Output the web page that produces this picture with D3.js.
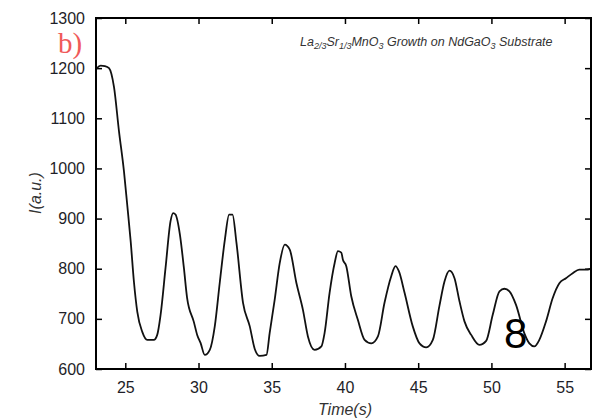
<!DOCTYPE html>
<meta charset="utf-8">
<style>
body { margin: 0; background: #fff; }
svg text { font-family: "Liberation Sans", Arial, sans-serif; }
.axis path { display: none; }
.axis line { stroke: #000; stroke-width: 1.5px; }
.axis text { fill: #1e1e28; font-size: 16px; }
.frame { fill: none; stroke: #000; stroke-width: 2px; }
.line { fill: none; stroke: #111; stroke-width: 1.8px; stroke-linejoin: round; }
</style>
<body>
<div id="chart"></div>
<script src="https://d3js.org/d3.v7.min.js"></script>
<script>

// RHEED intensity trace
var time = [23.0, 23.32, 23.61, 23.89, 24.23, 24.57, 24.91, 25.13, 25.37, 25.59, 25.82, 26.16, 26.5, 26.95,
  27.18, 27.41, 27.75, 28.09, 28.27, 28.43, 28.73, 29.0, 29.22, 29.68, 29.91, 30.14, 30.43, 30.77,
  31.11, 31.45, 31.8, 32.09, 32.32, 32.59, 33.04, 33.5, 33.84, 34.18, 34.64, 34.86, 35.2, 35.55, 35.89,
  36.23, 36.68, 37.13, 37.47, 37.93, 38.39, 38.61, 38.95, 39.3, 39.52, 39.75, 39.86, 40.09, 40.43, 40.88,
  41.34, 41.8, 42.25, 42.7, 43.16, 43.45, 43.68, 44.07, 44.63, 45.09, 45.55, 46.0, 46.45, 46.8, 47.14,
  47.48, 47.82, 48.16, 48.62, 49.18, 49.64, 50.09, 50.55, 50.89, 51.23, 51.68, 52.25, 52.59, 52.93, 53.27,
  53.73, 54.18, 54.64, 55.09, 55.55, 56.0, 56.45, 56.8];
var intensity = [1198, 1205, 1204, 1200, 1162, 1074, 994, 928, 854, 774, 714, 674, 658, 658,
  668, 708, 802, 895, 911, 908, 868, 802, 742, 694, 668, 652, 628, 638,
  685, 772, 858, 908, 908, 852, 732, 685, 640, 626, 628, 672, 738, 812, 848,
  838, 772, 718, 665, 638, 645, 672, 752, 812, 835, 832, 818, 805, 745, 698,
  658, 651, 665, 732, 785, 805, 795, 752, 685, 651, 643, 658, 726, 775, 796,
  781, 735, 695, 668, 648, 656, 708, 755, 760, 755, 728, 671, 651, 645, 658,
  695, 741, 771, 781, 791, 798, 798, 800];

var xTicks = [25, 30, 35, 40, 45, 50, 55];
var yTicks = [600, 700, 800, 900, 1000, 1100, 1200, 1300];

var data = time.map(function(t, i) { return {t: t, v: intensity[i]}; });

var margin = {top: 18, right: 2, bottom: 51, left: 96},
    width  = 593 - margin.left - margin.right,
    height = 420 - margin.top - margin.bottom;

var svgRoot = d3.select("#chart").append("svg")
    .attr("width", 593)
    .attr("height", 420);

var svg = svgRoot.append("g")
    .attr("transform", "translate(" + margin.left + "," + margin.top + ")");

var x = d3.scaleLinear().domain([23, 56.8]).range([0, width]);
var y = d3.scaleLinear().domain([600, 1300]).range([height, 0]);

svg.append("clipPath").attr("id", "clip")
  .append("rect").attr("width", width).attr("height", height);

// axes, ticks pointing inward
svg.append("g")
    .attr("class", "axis")
    .attr("transform", "translate(0," + height + ")")
    .call(d3.axisBottom(x).tickValues(xTicks).tickFormat(d3.format("d"))
        .tickSizeInner(-6).tickSizeOuter(0).tickPadding(13));

svg.append("g")
    .attr("class", "axis")
    .call(d3.axisTop(x).tickValues(xTicks).tickSizeInner(-6).tickSizeOuter(0).tickFormat(""));

svg.append("g")
    .attr("class", "axis")
    .call(d3.axisLeft(y).tickValues(yTicks).tickFormat(d3.format("d"))
        .tickSizeInner(-6).tickSizeOuter(0).tickPadding(11));

svg.append("g")
    .attr("class", "axis")
    .attr("transform", "translate(" + width + ",0)")
    .call(d3.axisRight(y).tickValues(yTicks).tickSizeInner(-6).tickSizeOuter(0).tickFormat(""));

svg.append("path")
    .datum(data)
    .attr("class", "line")
    .attr("clip-path", "url(#clip)")
    .attr("d", d3.line()
        .x(function(d) { return x(d.t); })
        .y(function(d) { return y(d.v); })
        .curve(d3.curveMonotoneX));

svg.append("rect")
    .attr("class", "frame")
    .attr("width", width)
    .attr("height", height);

// axis titles
svgRoot.append("text")
    .attr("x", 345).attr("y", 415)
    .attr("text-anchor", "middle")
    .style("font-style", "italic")
    .style("font-size", "16px")
    .style("fill", "#333")
    .text("Time(s)");

svgRoot.append("text")
    .attr("transform", "translate(41,193) rotate(-90)")
    .attr("text-anchor", "middle")
    .style("font-style", "italic")
    .style("font-size", "16px")
    .style("fill", "#333")
    .text("I(a.u.)");

// panel letter
svgRoot.append("text")
    .attr("x", 58).attr("y", 53)
    .style("font-family", "'Liberation Serif', 'Times New Roman', serif")
    .style("font-size", "29px")
    .style("fill", "#f05a5a")
    .text("b)");

// title with subscripts
var title = svgRoot.append("text")
    .attr("x", 300).attr("y", 46)
    .style("font-style", "italic")
    .style("font-size", "12.5px")
    .style("fill", "#333");

var parts = [["La", 0], ["2/3", 1], ["Sr", 0], ["1/3", 1], ["MnO", 0], ["3", 1],
             [" Growth on NdGaO", 0], ["3", 1], [" Substrate", 0]];
parts.forEach(function(p, i) {
    var prev = i > 0 ? parts[i - 1][1] : 0;
    var dy = p[1] === prev ? 0 : (p[1] ? 3 : -3);
    title.append("tspan")
        .attr("dy", dy)
        .style("font-size", p[1] ? "9px" : null)
        .text(p[0]);
});

// annotation
svgRoot.append("text")
    .attr("x", 504).attr("y", 348)
    .style("font-size", "42px")
    .style("fill", "#000")
    .text("8");

</script>
